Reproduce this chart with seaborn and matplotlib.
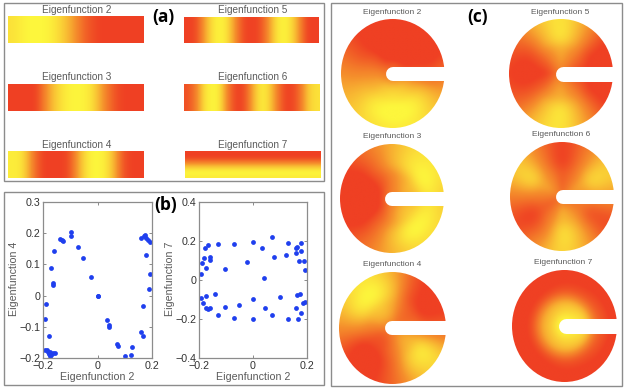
import numpy as np
import matplotlib
matplotlib.use('Agg')
import matplotlib.pyplot as plt
import seaborn as sns
from matplotlib.colors import LinearSegmentedColormap
from matplotlib.patches import Ellipse, Rectangle

sns.set_style('white')
plt.rcParams['font.family'] = ['Liberation Sans', 'DejaVu Sans']

W, H = 626, 391
GRAY = '#5a5a5a'
BLUE = '#1f3fee'

# 0 = yellow, 1 = red
heat = LinearSegmentedColormap.from_list('heat', ['#fdf63c', '#f58f2c', '#ef4023'])

# (a) strip values, read left to right
strip_2 = [[.1, .05, 0, 0, 0, .05, .15, .3, .5, .75, .9, 1, 1, 1, 1, 1, 1]]
strip_3 = [[1, 1, 1, 1, .6, .3, .12, .03, 0, .02, .1, .35, .65, .9, 1, 1, 1]]
strip_4 = [[.05, .05, .3, .75, 1, 1, 1, .95, .5, .15, 0, 0, .1, .4, .9, 1, 1]]
strip_5 = [[1, .95, .45, .1, 0, .1, .5, .95, 1, .95, .55, .12, 0, .1, .45, 1, 1]]
strip_6 = [[.9, .6, .1, 0, .05, .6, 1, .95, .4, .05, .1, .5, .95, 1, .7, .2, .1]]
# this one changes top to bottom
strip_7 = [[1], [1], [.9], [.65], [.4], [.2], [.05], [0], [.05]]

# (b) scatter values
e2_left = [-.096, -.096, -.137, -.132, -.128, -.160, -.070, -.052, -.171, -.165, -.165, -.025, 0, .001,
           -.190, -.192, -.177, -.193, -.187, -.183, -.177, -.171, -.175, -.162, -.156, -.175,
           .034, .042, .044, .070, .076, .101, .123, .128, .160, .166, .166, .188, .192, .178,
           .160, .171, .175, .178, .186, .194]
e4_left = [.203, .190, .180, .177, .174, .143, .155, .121, .089, .039, .035, .060, 0, -.001,
           -.026, -.076, -.131, -.175, -.175, -.180, -.186, -.191, -.182, -.185, -.184, -.193,
           -.079, -.095, -.102, -.155, -.160, -.193, -.189, -.166, -.117, -.129, -.034, .021, .069, .131,
           .185, .190, .195, .185, .177, .173]
e2_right = [-.193, -.190, -.180, -.178, -.165, -.173, -.159, -.159, -.128, -.070, -.105, 0, -.023, .033,
            .070, .077, .041, .122, .128, .158, .164, .158, .179, .179, .172, .188, .193,
            -.193, -.185, -.173, -.175, -.167, -.159, -.140, -.130, -.104, -.070, -.053, 0, 0,
            .043, .070, .100, .128, .158, .167, .164, .173, .178, .184, .191]
e7_right = [.032, .089, .113, .164, .181, .063, .118, .101, .185, .185, .058, .193, .092, .164,
            .220, .116, .012, .130, .191, .164, .171, .137, .188, .147, .097, .096, .053,
            -.092, -.116, -.080, -.145, -.147, -.145, -.070, -.178, -.140, -.193, -.128, -.099, -.200,
            -.142, -.181, -.085, -.198, -.144, -.198, -.075, -.070, -.168, -.118, -.111]

ticks_x = [-.2, 0, .2]
ticks_x_labels = ['\u22120.2', '0', '0.2']
ticks_4 = [-.2, -.1, 0, .1, .2, .3]
ticks_4_labels = ['\u22120.2', '\u22120.1', '0', '0.1', '0.2', '0.3']
ticks_7 = [-.4, -.2, 0, .2, .4]
ticks_7_labels = ['\u22120.4', '\u22120.2', '0', '0.2', '0.4']

# (c) disk values: one row per ring, one column per 30 degrees starting at the slit
disk_radii = [0, .35, .7, 1.05]
disk_2 = [[.6] * 12,
          [.7, .95, 1, 1, .95, .7, .5, .35, .2, .15, .2, .35],
          [.8, 1, 1, 1, 1, .8, .5, .28, .05, 0, .03, .2],
          [.6, 1, 1, 1, 1, .75, .45, .28, .15, .1, .1, .28]]
disk_3 = [[.55] * 12,
          [.35, .28, .4, .55, .75, .95, 1, .95, .7, .45, .28, .22],
          [.15, 0, .1, .3, .65, 1, 1, 1, .65, .25, 0, .05],
          [.25, .1, .12, .32, .6, .9, 1, .9, .6, .3, .15, .15]]
disk_4 = [[.55] * 12,
          [.55, .7, .65, .35, .25, .3, .55, .8, .8, .6, .35, .3],
          [.75, 1, .85, .2, 0, .05, .45, 1, 1, .7, .15, 0],
          [.75, 1, .9, .28, .08, .18, .45, .9, 1, .7, .25, .08]]
disk_5 = [[.55] * 12,
          [.9, .7, .5, .35, .5, .75, .95, .75, .45, .35, .5, .7],
          [1, .95, .35, .03, .3, .85, 1, .8, .25, .03, .35, .95],
          [1, 1, .38, .05, .28, .75, .9, .75, .22, .05, .4, 1]]
disk_6 = [[.6] * 12,
          [.5, .35, .6, .75, .5, .35, .55, .75, .55, .28, .4, .6],
          [.4, .05, .6, 1, .55, .02, .55, 1, .6, .03, .3, .95],
          [.4, .1, .55, 1, .5, .1, .55, .95, .45, .1, .35, 1]]
disk_7 = [[0] * 12,
          [.1, .15, .2, .22, .25, .28, .28, .28, .25, .22, .2, .15],
          [.75, .8, .85, .85, .9, .9, .9, .9, .9, .85, .85, .8],
          [1] * 12]

fig = plt.figure(figsize=(W / 100, H / 100), dpi=100)


def px_axes(left, top, right, bottom, **kw):
    return fig.add_axes([left / W, 1 - bottom / H, (right - left) / W, (bottom - top) / H], **kw)


def disk_shade(vals, rr, aa):
    # soft weights over rings and columns, so the colours run smoothly between them
    vals = np.array(vals, dtype=float)
    ring_w = np.exp(-(rr[..., None] - np.array(disk_radii)) ** 2 / (2 * .16 ** 2))
    col_w = np.exp(11 * np.cos(aa[..., None] - np.deg2rad(np.arange(0, 360, 30))))
    ring_w /= ring_w.sum(axis=-1, keepdims=True)
    col_w /= col_w.sum(axis=-1, keepdims=True)
    return np.einsum('ijr,ija,ra->ij', ring_w, col_w, vals)


# backdrop in pixel coordinates, holds the panel frames and texts
back = px_axes(0, 0, W, H, zorder=5)
back.set_xlim(0, W)
back.set_ylim(H, 0)
back.axis('off')
for left, top, right, bottom in [(3.5, 3, 324, 181), (3.5, 192, 324, 385), (331, 3, 622, 386)]:
    back.add_patch(Rectangle((left, top), right - left, bottom - top, fill=False, ec='#8c8c8c', lw=1))

for label, x, y in [('(a)', 163, 17), ('(b)', 166, 205), ('(c)', 478, 17)]:
    back.text(x, y, label, fontsize=12.5, fontweight='bold', family='Open Sans',
              ha='center', va='center', color='black')


# (a)
strips = [(strip_2, 'Eigenfunction 2', 8, 16, 144, 43, 77, 10),
          (strip_3, 'Eigenfunction 3', 8, 84, 144, 111, 77, 77),
          (strip_4, 'Eigenfunction 4', 8, 151, 144, 178, 77, 145),
          (strip_5, 'Eigenfunction 5', 184, 17, 318, 43, 253, 10),
          (strip_6, 'Eigenfunction 6', 184, 84, 320, 111, 253, 77),
          (strip_7, 'Eigenfunction 7', 185, 151, 321, 178, 253, 145)]
for vals, name, left, top, right, bottom, tx, ty in strips:
    ax = px_axes(left, top, right, bottom)
    ax.imshow(vals, cmap=heat, vmin=0, vmax=1, aspect='auto',
              interpolation='bicubic', interpolation_stage='data')
    ax.axis('off')
    back.text(tx, ty, name, fontsize=7.2, color=GRAY, ha='center', va='center')


# (b)
def scatter_panel(x, y, left, right, yticks, ylabels, ylim, name, label_x):
    ax = px_axes(left, 202, right, 358)
    sns.scatterplot(x=x, y=y, ax=ax, color=BLUE, s=12, linewidth=0, clip_on=False)
    ax.set_xlim(-.2, .2)
    ax.set_ylim(*ylim)
    ax.set_xticks(ticks_x, ticks_x_labels)
    ax.set_yticks(yticks, ylabels)
    ax.tick_params(direction='in', length=2, width=.6, color='#777777', labelsize=7.7,
                   labelcolor='#333333', pad=2, bottom=True, left=True, top=True, right=True)
    for s in ax.spines.values():
        s.set_color('#8c8c8c')
        s.set_linewidth(.9)
    back.text((left + right) / 2, 377, 'Eigenfunction 2', fontsize=7.7, color=GRAY, ha='center', va='center')
    back.text(label_x, 279, name, fontsize=7.7, color=GRAY, ha='center', va='center', rotation=90)


scatter_panel(e2_left, e4_left, 43, 152, ticks_4, ticks_4_labels, (-.2, .3), 'Eigenfunction 4', 14)
scatter_panel(e2_right, e7_right, 199, 307, ticks_7, ticks_7_labels, (-.4, .4), 'Eigenfunction 7', 170)

# (c)
disks = [(disk_2, 'Eigenfunction 2', 341, 19, 444.5, 128, 386, 67, 81, 392, 13),
         (disk_3, 'Eigenfunction 3', 340, 144, 444, 253, 385, 192, 206, 392, 137),
         (disk_4, 'Eigenfunction 4', 339, 272, 446, 384, 385, 321, 335, 392, 264),
         (disk_5, 'Eigenfunction 5', 509, 19, 613, 128, 555, 66, 81, 560, 13),
         (disk_6, 'Eigenfunction 6', 510, 142, 614, 251, 556, 190, 204, 561, 135),
         (disk_7, 'Eigenfunction 7', 512, 270, 617, 382, 558, 318, 333, 563, 263)]
for vals, name, left, top, right, bottom, slit_x, slit_top, slit_bot, tx, ty in disks:
    ax = px_axes(left, top, right, bottom)
    cx, cy = (left + right) / 2, (top + bottom) / 2
    rx, ry = (right - left) / 2, (bottom - top) / 2
    gx, gy = np.meshgrid(np.linspace(-1, 1, 160), np.linspace(1, -1, 160))
    rr = np.hypot(gx, gy)
    aa = np.arctan2(gy, gx) % (2 * np.pi)
    im = ax.imshow(disk_shade(vals, rr, aa), cmap=heat, vmin=.05, vmax=.88, aspect='auto',
                   extent=(left, right, bottom, top), interpolation='bilinear')
    ax.set_xlim(left, right)
    ax.set_ylim(bottom, top)
    ax.axis('off')
    im.set_clip_path(Ellipse((cx, cy), 2 * rx, 2 * ry, transform=ax.transData))
    # slit is a fat white line with a round end
    half = (slit_bot - slit_top) / 2
    ax.plot([slit_x + half, right + 5], [slit_top + half] * 2, color='white',
            lw=(slit_bot - slit_top) * .72, solid_capstyle='round')
    back.text(tx, ty, name, fontsize=6, color=GRAY, ha='center', va='center')

fig.savefig('out.png', dpi=100, facecolor='white')
